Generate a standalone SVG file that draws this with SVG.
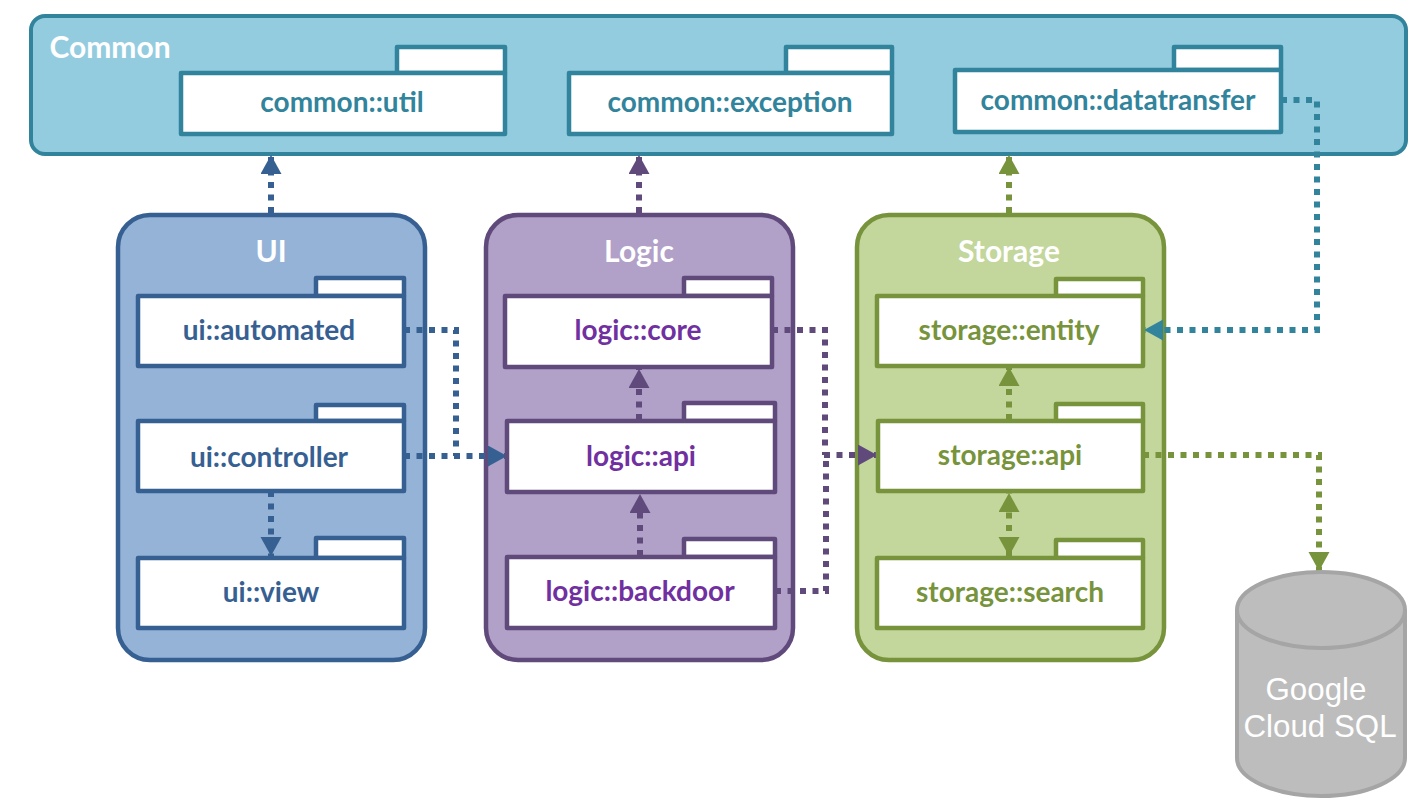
<svg xmlns="http://www.w3.org/2000/svg" width="1426" height="812" viewBox="0 0 1426 812">
<style>
text{font-family:"Lato","Carlito","Open Sans",sans-serif;text-anchor:middle}
.t{font-weight:700;font-size:28px}
.h{font-weight:700;font-size:30px;fill:#fff}
.p{fill:#fff;stroke-width:4.5;stroke-linejoin:round}
.c{fill:none;stroke-width:6;stroke-dasharray:6 6.5}
.teal .p,.teal.c{stroke:#31849b}.teal .t{fill:#31849b}
.blue .p,.blue.c{stroke:#376092}.blue .t{fill:#376092}
.purple .p,.purple.c{stroke:#604a7b}.purple .t{fill:#7030a0}
.green .p,.green.c{stroke:#77933c}.green .t{fill:#77933c}
.db{fill:#bdbdbd;stroke:#a5a5a5;stroke-width:4}
.dbt{font-family:"Liberation Sans",Arial,sans-serif;font-size:31.3px;fill:#fff}
</style>
<defs>
<marker id="aT" markerUnits="userSpaceOnUse" markerWidth="20" markerHeight="22" refX="19" refY="10.5" orient="auto-start-reverse"><path d="M0 0L19 10.5L0 21Z" fill="#31849b"/></marker>
<marker id="aB" markerUnits="userSpaceOnUse" markerWidth="20" markerHeight="22" refX="19" refY="10.5" orient="auto-start-reverse"><path d="M0 0L19 10.5L0 21Z" fill="#376092"/></marker>
<marker id="aP" markerUnits="userSpaceOnUse" markerWidth="20" markerHeight="22" refX="19" refY="10.5" orient="auto-start-reverse"><path d="M0 0L19 10.5L0 21Z" fill="#604a7b"/></marker>
<marker id="aG" markerUnits="userSpaceOnUse" markerWidth="20" markerHeight="22" refX="19" refY="10.5" orient="auto-start-reverse"><path d="M0 0L19 10.5L0 21Z" fill="#77933c"/></marker>
</defs>

<g id="common" class="teal">
<rect x="31" y="16" width="1375" height="138" rx="14" fill="#94ccdf" stroke="#31849b" stroke-width="4"/>
<text class="h" x="110" y="58">Common</text>
</g>
<g id="ui" class="blue">
<rect x="118" y="215" width="307" height="445" rx="32" fill="#95b3d7" stroke="#376092" stroke-width="4.5"/>
<text class="h" x="271" y="262">UI</text>
</g>
<g id="logic" class="purple">
<rect x="486" y="215" width="307" height="445" rx="32" fill="#b1a0c7" stroke="#604a7b" stroke-width="4.5"/>
<text class="h" x="639" y="262">Logic</text>
</g>
<g id="storage" class="green">
<rect x="857" y="215" width="307" height="445" rx="32" fill="#c3d69b" stroke="#77933c" stroke-width="4.5"/>
<text class="h" x="1009" y="262">Storage</text>
</g>

<g id="connectors">
<path class="c blue" d="M271 213V155" marker-end="url(#aB)"/>
<path class="c purple" d="M639 213V155" marker-end="url(#aP)"/>
<path class="c green" d="M1009 213V155" marker-end="url(#aG)"/>
<path class="c teal" d="M1281 100H1317V330H1144" marker-end="url(#aT)"/>
<path class="c blue" d="M404 330H456V456"/>
<path class="c blue" d="M404 456H507" marker-end="url(#aB)"/>
<path class="c blue" d="M271 491V556" marker-end="url(#aB)"/>
<path class="c purple" d="M772 330H825V455"/>
<path class="c purple" d="M775 591H826V455"/>
<path class="c purple" d="M824 455H877" stroke-dasharray="14 3" marker-end="url(#aP)"/>
<path class="c purple" d="M639 420V369" marker-end="url(#aP)"/>
<path class="c purple" d="M640 556V494" marker-end="url(#aP)"/>
<path class="c green" d="M1009 420V367" marker-end="url(#aG)"/>
<path class="c green" d="M1009 556V493" marker-start="url(#aG)" marker-end="url(#aG)"/>
<path class="c green" d="M1143 455H1319V571" marker-end="url(#aG)"/>
</g>

<g id="common-util" class="teal">
<path class="p" d="M397 47H505V73H397Z"/><rect class="p" x="181" y="73" width="324" height="61"/>
<text class="t" x="342" y="112">common::util</text>
</g>
<g id="common-exception" class="teal">
<path class="p" d="M786 47H892V73H786Z"/><rect class="p" x="569" y="73" width="323" height="61"/>
<text class="t" x="730" y="112">common::exception</text>
</g>
<g id="common-datatransfer" class="teal">
<path class="p" d="M1174 47H1281V70H1174Z"/><rect class="p" x="955" y="70" width="326" height="62"/>
<text class="t" x="1118" y="110">common::datatransfer</text>
</g>
<g id="ui-automated" class="blue">
<path class="p" d="M316 278H404V296H316Z"/><rect class="p" x="138" y="296" width="266" height="70"/>
<text class="t" x="269" y="340">ui::automated</text>
</g>
<g id="ui-controller" class="blue">
<path class="p" d="M316 405H404V421H316Z"/><rect class="p" x="138" y="421" width="266" height="70"/>
<text class="t" x="269" y="467">ui::controller</text>
</g>
<g id="ui-view" class="blue">
<path class="p" d="M316 538H404V558H316Z"/><rect class="p" x="138" y="558" width="266" height="70"/>
<text class="t" x="271" y="602">ui::view</text>
</g>
<g id="logic-core" class="purple">
<path class="p" d="M684 278H772V296H684Z"/><rect class="p" x="505" y="296" width="267" height="71"/>
<text class="t" x="638" y="340">logic::core</text>
</g>
<g id="logic-api" class="purple">
<path class="p" d="M684 403H775V421H684Z"/><rect class="p" x="507" y="421" width="268" height="71"/>
<text class="t" x="641" y="466">logic::api</text>
</g>
<g id="logic-backdoor" class="purple">
<path class="p" d="M684 539H775V557H684Z"/><rect class="p" x="507" y="557" width="268" height="71"/>
<text class="t" x="640" y="601">logic::backdoor</text>
</g>
<g id="storage-entity" class="green">
<path class="p" d="M1056 279H1143V296H1056Z"/><rect class="p" x="877" y="296" width="266" height="70"/>
<text class="t" x="1009" y="340">storage::entity</text>
</g>
<g id="storage-api" class="green">
<path class="p" d="M1056 404H1143V421H1056Z"/><rect class="p" x="878" y="421" width="265" height="70"/>
<text class="t" x="1010" y="465">storage::api</text>
</g>
<g id="storage-search" class="green">
<path class="p" d="M1056 540H1143V558H1056Z"/><rect class="p" x="877" y="558" width="266" height="70"/>
<text class="t" x="1010" y="602">storage::search</text>
</g>

<g id="cloud-sql">
<path class="db" d="M1237 610C1237 589 1275 572 1321 572C1367 572 1405 589 1405 610V758C1405 779 1367 796 1321 796C1275 796 1237 779 1237 758Z"/>
<path class="db" style="fill:none" d="M1237 610C1237 631 1275 648 1321 648C1367 648 1405 631 1405 610"/>
<text class="dbt" x="1316" y="700">Google</text>
<text class="dbt" x="1320" y="737">Cloud SQL</text>
</g>
</svg>
